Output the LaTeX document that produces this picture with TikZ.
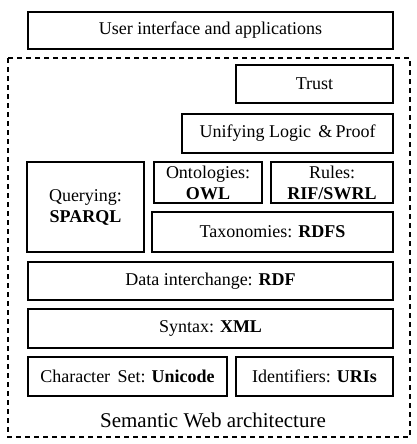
\documentclass[tikz,border=0pt]{standalone}
\usepackage{fontspec}
\setmainfont{Liberation Serif}

\tikzset{
    layer/.style={draw, line width=1.3pt, rectangle, inner sep=0pt, align=center,
        font=\fontsize{18}{21}\selectfont},
}

\begin{document}
\begin{tikzpicture}[x=1pt, y=-1pt]
        \useasboundingbox (0, 0) rectangle (416, 444);
        \node [layer, minimum width=365, minimum height=37] (ui) at (210.5, 30.5) {User interface and applications};
        \draw [line width=1.3pt, dash pattern=on 5pt off 4pt] (8, 58) rectangle (410, 437);
        \node [layer, minimum width=157, minimum height=38] (trust) at (314.5, 84) {Trust};
        \node [layer, minimum width=211, minimum height=39] (logic) at (287.5, 133.5) {Unifying Logic \,\&\,Proof};
        \node [layer, minimum width=117, minimum height=90] (query) at (85.5, 207) {Querying:\\\textbf{SPARQL}};
        \node [layer, minimum width=108, minimum height=41] (owl) at (208, 182.5) {Ontologies:\\\textbf{OWL}};
        \node [layer, minimum width=122, minimum height=41] (rules) at (332, 182.5) {Rules:\\\textbf{RIF/SWRL}};
        \node [layer, minimum width=241, minimum height=40] (rdfs) at (272.5, 232) {Taxonomies: \textbf{RDFS}};
        \node [layer, minimum width=365, minimum height=38] (rdf) at (210.5, 281) {Data interchange: \textbf{RDF}};
        \node [layer, minimum width=365, minimum height=39] (xml) at (210.5, 328.5) {Syntax: \textbf{XML}};
        \node [layer, minimum width=199, minimum height=39] (unicode) at (127.5, 376.5) {Character \,Set: \textbf{Unicode}};
        \node [layer, minimum width=157, minimum height=39] (uri) at (314.5, 376.5) {Identifiers: \textbf{URIs}};
        \node [font=\fontsize{21}{25}\selectfont] (title) at (213, 420) {Semantic Web architecture};
    \end{tikzpicture}
\end{document}
